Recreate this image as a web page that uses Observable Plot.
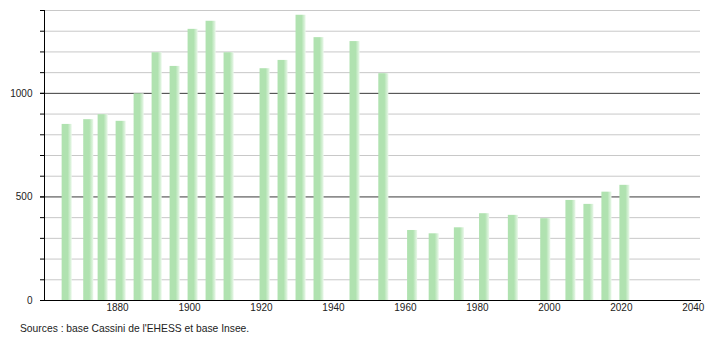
<!DOCTYPE html>
<html>
<head>
<meta charset="utf-8">
<script src="https://cdn.jsdelivr.net/npm/d3@7"></script>
<script src="https://cdn.jsdelivr.net/npm/@observablehq/plot@0.6"></script>
<style>
  body { margin: 0; background: #fff; font-family: "Liberation Sans", Arial, sans-serif; }
  #caption { font-size: 10.3px; color: #222; padding-left: 20px; line-height: 21px; height: 22px; }
</style>
</head>
<body>
<div id="chart"></div>
<div id="caption">Sources : base Cassini de l'EHESS et base Insee.</div>
<script>
const years = [1866, 1872, 1876, 1881, 1886, 1891, 1896, 1901, 1906, 1911, 1921, 1926, 1931, 1936, 1946, 1954, 1962, 1968, 1975, 1982, 1990, 1999, 2006, 2011, 2016, 2021];
const population = [850, 873, 897, 865, 998, 1196, 1130, 1309, 1348, 1196, 1119, 1159, 1377, 1269, 1250, 1095, 338, 322, 351, 419, 411, 395, 483, 464, 523, 556];
const xTicks = [1880, 1900, 1920, 1940, 1960, 1980, 2000, 2020, 2040];
const yLabelTicks = [0, 500, 1000];
const yMinorTicks = [100, 200, 300, 400, 600, 700, 800, 900, 1100, 1200, 1300, 1400];
const yMajorTicks = [500, 1000];
const yAllTicks = d3.range(0, 1401, 100);

const data = years.map((y, i) => ({year: y, pop: population[i]}));
const halfWidth = 1.4;

const plot = Plot.plot({
  width: 710,
  height: 318,
  marginLeft: 44,
  marginRight: 10,
  marginTop: 10,
  marginBottom: 18,
  style: {fontFamily: "Liberation Sans, Arial, sans-serif", fontSize: "10px", color: "#222"},
  x: {domain: [1859.7, 2042]},
  y: {domain: [0, 1400]},
  marks: [
    Plot.gridY(yMinorTicks, {stroke: "#c8c8c8", strokeOpacity: 1, strokeWidth: 1}),
    Plot.gridY(yMajorTicks, {stroke: "#3a3a3a", strokeOpacity: 1, strokeWidth: 1}),
    Plot.rectY(data, {x1: d => d.year - halfWidth, x2: d => d.year + halfWidth, y: "pop", fill: "url(#barGrad)"}),
    Plot.axisY(yAllTicks, {tickSize: 4, label: null, tickFormat: () => "", stroke: "#000"}),
    Plot.axisY(yLabelTicks, {tickSize: 4, tickPadding: 8, label: null, tickFormat: d => String(d), stroke: "#000"}),
    Plot.axisX(xTicks, {tickSize: 0, tickPadding: 3, label: null, tickFormat: d => String(d)}),
    Plot.frame({anchor: "left", stroke: "#000"}),
    Plot.frame({anchor: "bottom", stroke: "#000"})
  ]
});

const svg = d3.select(plot);
const defs = svg.insert("defs", ":first-child");
const grad = defs.append("linearGradient").attr("id", "barGrad").attr("x1", "0").attr("x2", "1").attr("y1", "0").attr("y2", "0");
grad.append("stop").attr("offset", "0").attr("stop-color", "#b0e2b0");
grad.append("stop").attr("offset", "0.6").attr("stop-color", "#b0e2b0");
grad.append("stop").attr("offset", "1").attr("stop-color", "#eaf8ea");

document.getElementById("chart").appendChild(plot);
</script>
</body>
</html>
